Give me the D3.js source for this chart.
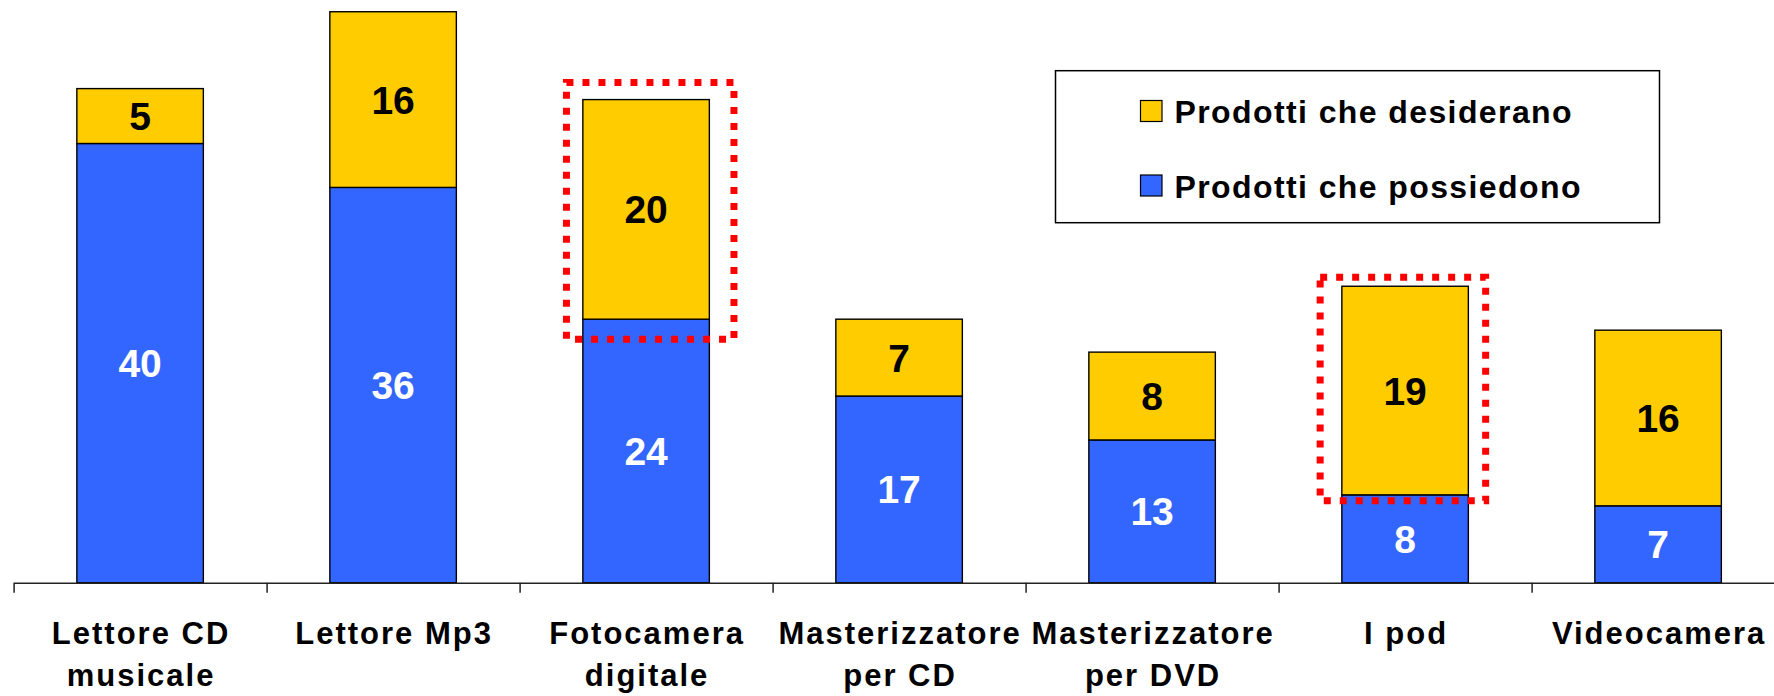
<!DOCTYPE html>
<html>
<head>
<meta charset="utf-8">
<script src="https://cdn.jsdelivr.net/npm/d3@7"></script>
<style>
  html, body { margin: 0; padding: 0; background: #fff; }
  svg { display: block; }
  text { font-family: "Liberation Sans", Arial, Helvetica, sans-serif; font-weight: bold; }
</style>
</head>
<body>
<svg id="chart" width="1774" height="696"></svg>
<script>
// ---- data ----
const categories = ["Lettore CD\nmusicale", "Lettore Mp3", "Fotocamera\ndigitale", "Masterizzatore\nper CD", "Masterizzatore\nper DVD", "I pod", "Videocamera"];
const possiedono = [40, 36, 24, 17, 13, 8, 7];
const desiderano = [5, 16, 20, 7, 8, 19, 16];
const seriesNames = ["Prodotti che desiderano", "Prodotti che possiedono"];
const highlighted = ["Fotocamera\ndigitale", "I pod"];

// ---- layout ----
const W = 1774, H = 696;
const baseY = 582.7;
const x0 = 13.6, step = 253;
const colYellow = "#FFCC00", colBlue = "#3366FF";

const svg = d3.select("#chart");

const x = d3.scaleBand()
  .domain(categories)
  .range([x0, x0 + step * categories.length])
  .paddingInner(0.5)
  .paddingOuter(0.25);

const y = d3.scaleLinear()
  .domain([0, 53])
  .range([baseY, baseY - 53 * 10.98]);

const rows = categories.map((c, i) => ({ cat: c, own: possiedono[i], want: desiderano[i] }));

// bars: owned (blue)
svg.append("g").selectAll("rect")
  .data(rows).join("rect")
  .attr("x", d => x(d.cat))
  .attr("width", x.bandwidth())
  .attr("y", d => y(d.own))
  .attr("height", d => y(0) - y(d.own))
  .attr("fill", colBlue)
  .attr("stroke", "#000")
  .attr("stroke-width", 1.4);

// bars: desired (yellow), stacked
svg.append("g").selectAll("rect")
  .data(rows).join("rect")
  .attr("x", d => x(d.cat))
  .attr("width", x.bandwidth())
  .attr("y", d => y(d.own + d.want))
  .attr("height", d => y(d.own) - y(d.own + d.want))
  .attr("fill", colYellow)
  .attr("stroke", "#000")
  .attr("stroke-width", 1.4);

// value labels
const valSize = 39;
svg.append("g").selectAll("text")
  .data(rows).join("text")
  .attr("x", d => x(d.cat) + x.bandwidth() / 2)
  .attr("y", d => (y(0) + y(d.own)) / 2 + valSize * 0.36)
  .attr("text-anchor", "middle")
  .attr("font-size", valSize)
  .attr("fill", "#fff")
  .text(d => d.own);

svg.append("g").selectAll("text")
  .data(rows).join("text")
  .attr("x", d => x(d.cat) + x.bandwidth() / 2)
  .attr("y", d => (y(d.own) + y(d.own + d.want)) / 2 + valSize * 0.36)
  .attr("text-anchor", "middle")
  .attr("font-size", valSize)
  .attr("fill", "#000")
  .text(d => d.want);

// x axis with ticks at category boundaries
const xb = d3.scaleLinear().domain([0, categories.length]).range(x.range());
const axis = d3.axisBottom(xb)
  .tickValues(d3.range(0, categories.length + 1))
  .tickFormat("")
  .tickSizeInner(10)
  .tickSizeOuter(0);
const ag = svg.append("g").attr("transform", `translate(0,${baseY})`).call(axis);
ag.selectAll("path, line").attr("stroke", "#222").attr("stroke-width", 1.5);

// category labels
const catG = svg.append("g");
rows.forEach(d => {
  const t = catG.append("text")
    .attr("text-anchor", "middle")
    .attr("font-size", 31)
    .attr("letter-spacing", 2)
    .attr("fill", "#000");
  d.cat.split("\n").forEach((line, k) => {
    t.append("tspan")
      .attr("x", x(d.cat) + x.bandwidth() / 2 + 1)
      .attr("y", baseY + 61 + k * 42)
      .text(line);
  });
});

// highlight boxes (red dotted)
const hl = svg.append("g");
const hlPad = { "Fotocamera\ndigitale": [16.4, 24.6, 17, 20], "I pod": [21.7, 17.3, 9, 6] };
rows.filter(d => highlighted.includes(d.cat)).forEach(d => {
  const p = hlPad[d.cat];
  const left = x(d.cat) - p[0];
  const right = x(d.cat) + x.bandwidth() + p[1];
  const top = y(d.own + d.want) - p[2];
  const bottom = y(d.own) + p[3];
  hl.append("rect")
    .attr("x", left).attr("y", top)
    .attr("width", right - left).attr("height", bottom - top)
    .attr("fill", "none")
    .attr("stroke", "#FF0000")
    .attr("stroke-width", 7)
    .attr("stroke-dasharray", "7,9");
});

// legend
const lg = svg.append("g");
lg.append("rect")
  .attr("x", 1055.5).attr("y", 70.7)
  .attr("width", 604).attr("height", 152)
  .attr("fill", "#fff").attr("stroke", "#000").attr("stroke-width", 1.5);
const legColors = [colYellow, colBlue];
seriesNames.forEach((name, i) => {
  const yy = 100.5 + i * 74.5;
  lg.append("rect")
    .attr("x", 1140.5).attr("y", yy)
    .attr("width", 21.5).attr("height", 21)
    .attr("fill", legColors[i]).attr("stroke", "#000").attr("stroke-width", 1.2);
  lg.append("text")
    .attr("x", 1174.5).attr("y", yy + 22.5)
    .attr("font-size", 32)
    .attr("letter-spacing", 1.4)
    .attr("fill", "#000")
    .text(name);
});
</script>
</body>
</html>
